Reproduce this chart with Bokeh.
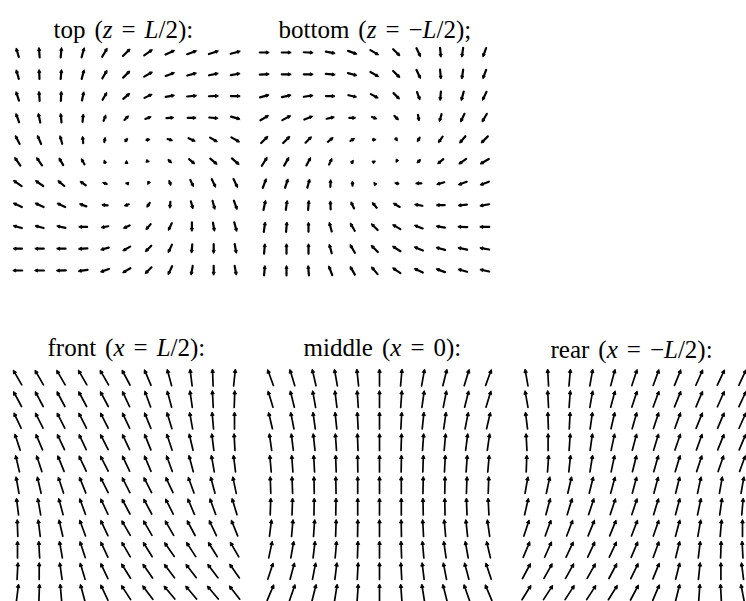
import numpy as np
from bokeh.plotting import figure
from bokeh.models import Range1d, ColumnDataSource, Arrow, NormalHead
from bokeh.core.properties import value
from bokeh.embed import file_html
from bokeh.resources import INLINE

# Field direction (degrees, counter-clockwise from +x) on each face, 11 x 11 samples,
# rows listed from the top of each panel downwards.
TOP_ANGLE = [
    [106, 94, 85, 75, 60, 45, 35, 25, 20, 18, 15],
    [106, 92, 85, 75, 60, 45, 30, 20, 15, 12, 10],
    [108, 94, 88, 78, 60, 40, 25, 10, 5, 2, 0],
    [110, 102, 95, 85, 70, 45, 20, 5, 0, -5, -15],
    [117, 113, 105, 95, 80, 50, 10, -15, -25, -30, -30],
    [125, 125, 120, 120, 110, 90, -20, -45, -40, -40, -40],
    [145, 145, 140, 145, 160, 170, 240, -70, -65, -65, -65],
    [155, 155, 155, 160, 175, 200, 235, 265, -75, -75, -70],
    [165, 165, 168, 180, 190, 205, 230, 245, 270, -80, -75],
    [180, 180, 180, 183, 195, 210, 225, 245, 265, 270, -80],
    [180, 180, 182, 188, 200, 210, 225, 245, 260, 270, -80],
]
TOP_LEN = [
    [0.9, 0.95, 0.95, 0.95, 0.95, 0.95, 0.95, 0.95, 0.95, 0.95, 0.95],
    [0.9, 0.9, 0.9, 0.9, 0.9, 0.9, 0.9, 0.9, 0.9, 0.9, 0.9],
    [0.9, 0.9, 0.9, 0.85, 0.8, 0.8, 0.8, 0.85, 0.9, 0.9, 0.9],
    [0.9, 0.9, 0.85, 0.75, 0.6, 0.55, 0.6, 0.7, 0.8, 0.85, 0.9],
    [0.9, 0.9, 0.8, 0.65, 0.45, 0.35, 0.35, 0.5, 0.7, 0.8, 0.9],
    [0.95, 0.9, 0.8, 0.6, 0.3, 0.2, 0.2, 0.4, 0.7, 0.85, 0.9],
    [0.95, 0.9, 0.8, 0.65, 0.4, 0.2, 0.25, 0.45, 0.7, 0.85, 0.9],
    [0.9, 0.9, 0.85, 0.7, 0.55, 0.45, 0.5, 0.6, 0.75, 0.85, 0.9],
    [0.85, 0.85, 0.85, 0.8, 0.7, 0.65, 0.7, 0.75, 0.85, 0.85, 0.9],
    [0.85, 0.85, 0.85, 0.85, 0.8, 0.8, 0.8, 0.85, 0.85, 0.9, 0.9],
    [0.9, 0.9, 0.9, 0.9, 0.85, 0.85, 0.85, 0.9, 0.9, 0.9, 0.9],
]

BOTTOM_ANGLE = [
    [0, 0, -3, -10, -20, -30, -45, -65, -85, 262, 250],
    [3, 0, 0, -5, -15, -30, -45, -65, -85, 262, 250],
    [15, 12, 8, 0, -12, -28, -45, -70, 265, 255, 245],
    [30, 28, 22, 12, 0, -20, -45, -80, 255, 245, 240],
    [45, 45, 45, 40, 30, 0, -60, 240, 235, 230, 225],
    [58, 60, 62, 65, 60, 30, 240, 225, 220, 215, 210],
    [70, 72, 75, 88, 90, 130, 170, 180, 195, 200, 200],
    [78, 82, 85, 92, 115, 130, 150, 170, 180, 185, 190],
    [82, 85, 90, 105, 120, 135, 150, 160, 170, 178, 180],
    [85, 90, 90, 105, 120, 135, 148, 158, 165, 168, 170],
    [85, 90, 95, 110, 120, 130, 145, 155, 160, 165, 168],
]
BOTTOM_LEN = [
    [0.9, 0.9, 0.9, 0.9, 0.9, 0.9, 0.9, 0.9, 0.9, 0.9, 0.9],
    [0.9, 0.9, 0.9, 0.9, 0.9, 0.9, 0.9, 0.9, 0.9, 0.9, 0.9],
    [0.9, 0.9, 0.9, 0.85, 0.8, 0.8, 0.8, 0.8, 0.85, 0.9, 0.9],
    [0.9, 0.9, 0.85, 0.75, 0.6, 0.5, 0.55, 0.6, 0.75, 0.85, 0.9],
    [0.9, 0.9, 0.8, 0.65, 0.45, 0.3, 0.3, 0.45, 0.7, 0.85, 0.9],
    [0.95, 0.9, 0.85, 0.65, 0.3, 0.2, 0.2, 0.4, 0.7, 0.85, 0.95],
    [0.95, 0.9, 0.85, 0.7, 0.45, 0.2, 0.35, 0.55, 0.75, 0.85, 0.9],
    [0.95, 0.9, 0.9, 0.8, 0.7, 0.65, 0.7, 0.75, 0.8, 0.85, 0.9],
    [0.95, 0.95, 0.9, 0.9, 0.85, 0.85, 0.85, 0.85, 0.85, 0.9, 0.9],
    [0.95, 0.95, 0.95, 0.9, 0.9, 0.9, 0.9, 0.9, 0.9, 0.9, 0.9],
    [0.95, 0.95, 0.95, 0.95, 0.9, 0.9, 0.9, 0.9, 0.9, 0.9, 0.9],
]

FRONT_ANGLE = [
    [120, 120, 120, 120, 120, 118, 113, 105, 97, 92, 84],
    [118, 118, 118, 118, 118, 115, 110, 105, 98, 93, 88],
    [115, 117, 117, 117, 117, 115, 112, 107, 100, 95, 90],
    [108, 113, 115, 115, 117, 115, 112, 108, 103, 97, 93],
    [103, 108, 112, 115, 117, 115, 113, 110, 105, 100, 97],
    [100, 103, 108, 112, 117, 117, 117, 115, 110, 105, 102],
    [97, 100, 105, 110, 115, 118, 118, 117, 113, 110, 107],
    [92, 97, 103, 110, 115, 120, 120, 120, 118, 115, 112],
    [90, 93, 100, 108, 115, 120, 122, 125, 123, 122, 120],
    [87, 90, 98, 107, 115, 122, 125, 127, 128, 127, 125],
    [83, 88, 95, 105, 115, 123, 127, 130, 130, 130, 128],
]

MIDDLE_ANGLE = [
    [110, 107, 103, 100, 96, 90, 85, 80, 76, 73, 70],
    [107, 104, 100, 97, 94, 90, 86, 82, 79, 76, 73],
    [103, 101, 98, 96, 93, 90, 87, 84, 82, 79, 77],
    [98, 97, 96, 94, 92, 90, 88, 86, 85, 83, 82],
    [95, 94, 93, 92, 91, 90, 89, 88, 87, 86, 85],
    [92, 92, 91, 91, 90, 90, 90, 89, 89, 88, 88],
    [88, 88, 89, 89, 90, 90, 90, 91, 91, 92, 93],
    [83, 85, 86, 88, 89, 90, 91, 93, 95, 96, 98],
    [78, 80, 83, 85, 88, 90, 92, 95, 98, 100, 103],
    [72, 75, 79, 83, 87, 90, 93, 97, 101, 105, 108],
    [67, 71, 76, 81, 86, 90, 94, 99, 104, 109, 113],
]

REAR_ANGLE = [
    [100, 93, 85, 80, 75, 72, 70, 68, 66, 65, 65],
    [100, 93, 86, 80, 75, 72, 70, 68, 67, 66, 65],
    [97, 92, 87, 82, 77, 74, 72, 70, 68, 67, 66],
    [93, 90, 86, 82, 78, 75, 73, 71, 70, 68, 67],
    [88, 86, 84, 81, 78, 76, 74, 73, 72, 71, 70],
    [80, 78, 77, 76, 75, 75, 75, 76, 78, 80, 80],
    [77, 75, 73, 72, 72, 72, 73, 75, 78, 82, 85],
    [72, 70, 69, 68, 68, 69, 71, 75, 80, 85, 90],
    [67, 66, 65, 65, 65, 67, 70, 76, 83, 88, 93],
    [62, 61, 61, 61, 62, 64, 68, 76, 84, 90, 97],
    [58, 57, 57, 57, 58, 62, 67, 76, 86, 93, 101],
]

W, H = 746, 601

p = figure(width=W, height=H, x_range=Range1d(0, W), y_range=Range1d(H, 0),
           output_backend="svg", toolbar_location=None, min_border=0,
           x_axis_location=None, y_axis_location=None,
           outline_line_color=None, background_fill_color="white",
           border_fill_color="white")
p.grid.visible = False


def quiver(angles, x0, y0, dx, dy, unit, lengths=None, width=2.0, head=4):
    """Draw an 11x11 field of arrows centred on a regular grid (screen-pixel ranges)."""
    a = np.radians(np.asarray(angles, dtype=float))
    n_r, n_c = a.shape
    ln = np.ones_like(a) if lengths is None else np.asarray(lengths, dtype=float)
    cols, rows = np.meshgrid(np.arange(n_c), np.arange(n_r))
    cx = x0 + cols * dx
    cy = y0 + rows * dy
    hx = 0.5 * unit * ln * np.cos(a)
    hy = -0.5 * unit * ln * np.sin(a)  # y grows downward on screen
    src = ColumnDataSource(dict(
        xs=(cx - hx).ravel(), ys=(cy - hy).ravel(),
        xe=(cx + hx).ravel(), ye=(cy + hy).ravel(),
    ))
    p.add_layout(Arrow(
        x_start="xs", y_start="ys", x_end="xe", y_end="ye", source=src,
        line_color="black", line_width=width, line_cap="round",
        end=NormalHead(size=head, fill_color="black", line_color="black", line_width=1),
    ))


quiver(TOP_ANGLE, 17, 52, 21.8, 21.8, 10.5, TOP_LEN, width=2.2, head=3)
quiver(BOTTOM_ANGLE, 264, 52, 22.0, 21.8, 10.5, BOTTOM_LEN, width=2.2, head=3)
quiver(FRONT_ANGLE, 17, 377, 21.7, 21.5, 17, width=1.7, head=3.5)
quiver(MIDDLE_ANGLE, 270, 377, 21.8, 21.5, 17, width=1.7, head=3.5)
quiver(REAR_ANGLE, 526, 377, 21.6, 21.5, 17, width=1.7, head=3.5)

# Titles: upright words with italic variables, laid out run by run.
FS = 25
ADV = {' ': 250, '(': 333, ')': 333, '/': 278, '0': 500, '2': 500, ':': 278,
       ';': 278, '=': 564, '\u2212': 564, 'a': 444, 'b': 500, 'd': 500, 'e': 444,
       'f': 333, 'i': 278, 'l': 278, 'm': 778, 'n': 500, 'o': 500, 'p': 500,
       'r': 333, 't': 278, 'z': 389, 'L': 556, 'x': 444}
GAP = None


def run_width(s):
    return sum(ADV.get(c, 500) for c in s) * FS / 1000.0


def title(pieces, x, y, gap=9):
    for piece in pieces:
        if piece is GAP:
            x += gap
            continue
        txt, ital = piece
        p.text(x=[x], y=[y], text=[txt], text_font=value("Liberation Serif"),
               text_font_size=f"{FS}px",
               text_font_style="italic" if ital else "normal",
               text_align="left", text_baseline="alphabetic", text_color="black")
        x += run_width(txt)


title([("top", 0), GAP, ("(", 0), ("z", 1), GAP, ("=", 0), GAP, ("L", 1), ("/2):", 0)], 53, 29)
title([("bottom", 0), GAP, ("(", 0), ("z", 1), GAP, ("=", 0), GAP, ("\u2212", 0), ("L", 1), ("/2);", 0)], 278, 29)
title([("front", 0), GAP, ("(", 0), ("x", 1), GAP, ("=", 0), GAP, ("L", 1), ("/2):", 0)], 47, 347)
title([("middle", 0), GAP, ("(", 0), ("x", 1), GAP, ("=", 0), GAP, ("0):", 0)], 303, 347)
title([("rear", 0), GAP, ("(", 0), ("x", 1), GAP, ("=", 0), GAP, ("\u2212", 0), ("L", 1), ("/2):", 0)], 550, 349)

open("out.html", "w").write(file_html(p, INLINE))
